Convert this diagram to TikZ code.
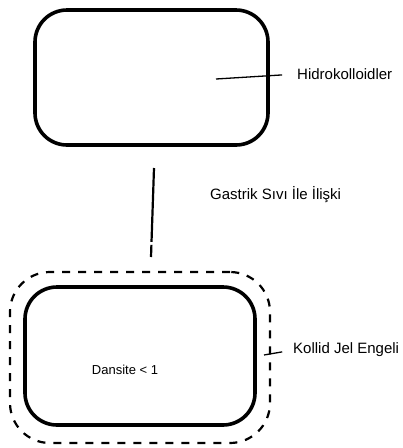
\documentclass[tikz,border=0pt]{standalone}
\usepackage{fontspec}
\setmainfont{Liberation Sans}
\begin{document}
\begin{tikzpicture}[x=1pt,y=-1pt,
  cushion/.style={draw=black, line width=3.6pt, rounded corners=32pt, inner sep=0pt},
  barrier/.style={draw=black, line width=2.2pt, rounded corners=40pt, inner sep=0pt,
    dash pattern=on 8pt off 8pt},
  lbl/.style={anchor=west, inner sep=0pt, font=\fontsize{15}{18}\selectfont},
  leader/.style={draw=black, line width=1.3pt}]
\useasboundingbox (0,0) rectangle (403,448);

% upper body: hydrocolloids
\node[cushion, minimum width=233pt, minimum height=135pt] (hydro) at (151.5,77.5) {};
\node[lbl] (hydrolbl) at (297,74) {Hidrokolloidler};
\coordinate (hydropt) at (216,79);
\draw[leader, shorten >=15pt] (hydropt) -- (hydrolbl.west);

% link to the gastric fluid
\node[lbl] (gastric) at (210,195) {Gastrik Sıvı İle İlişki};
\coordinate (linktop) at (154,168);
\coordinate (linkbot) at (151,257);
\draw[line width=2.2pt, dash pattern=on 74pt off 3pt on 14pt] (linktop) -- (linkbot);

% lower body with its gel barrier
\node[barrier, minimum width=260pt, minimum height=171pt] (gel) at (140,357.5) {};
\node[cushion, minimum width=230pt, minimum height=138pt] (core) at (140,356) {};
\node[inner sep=0pt, font=\fontsize{13}{16}\selectfont] (density) at (125,370) {Dansite < 1};
\node[lbl] (gellbl) at (293,350) {Kollid Jel Engeli};
\coordinate (gelpt) at (264,355);
\draw[leader, shorten >=11pt] (gelpt) -- (gellbl.west);
\end{tikzpicture}
\end{document}
